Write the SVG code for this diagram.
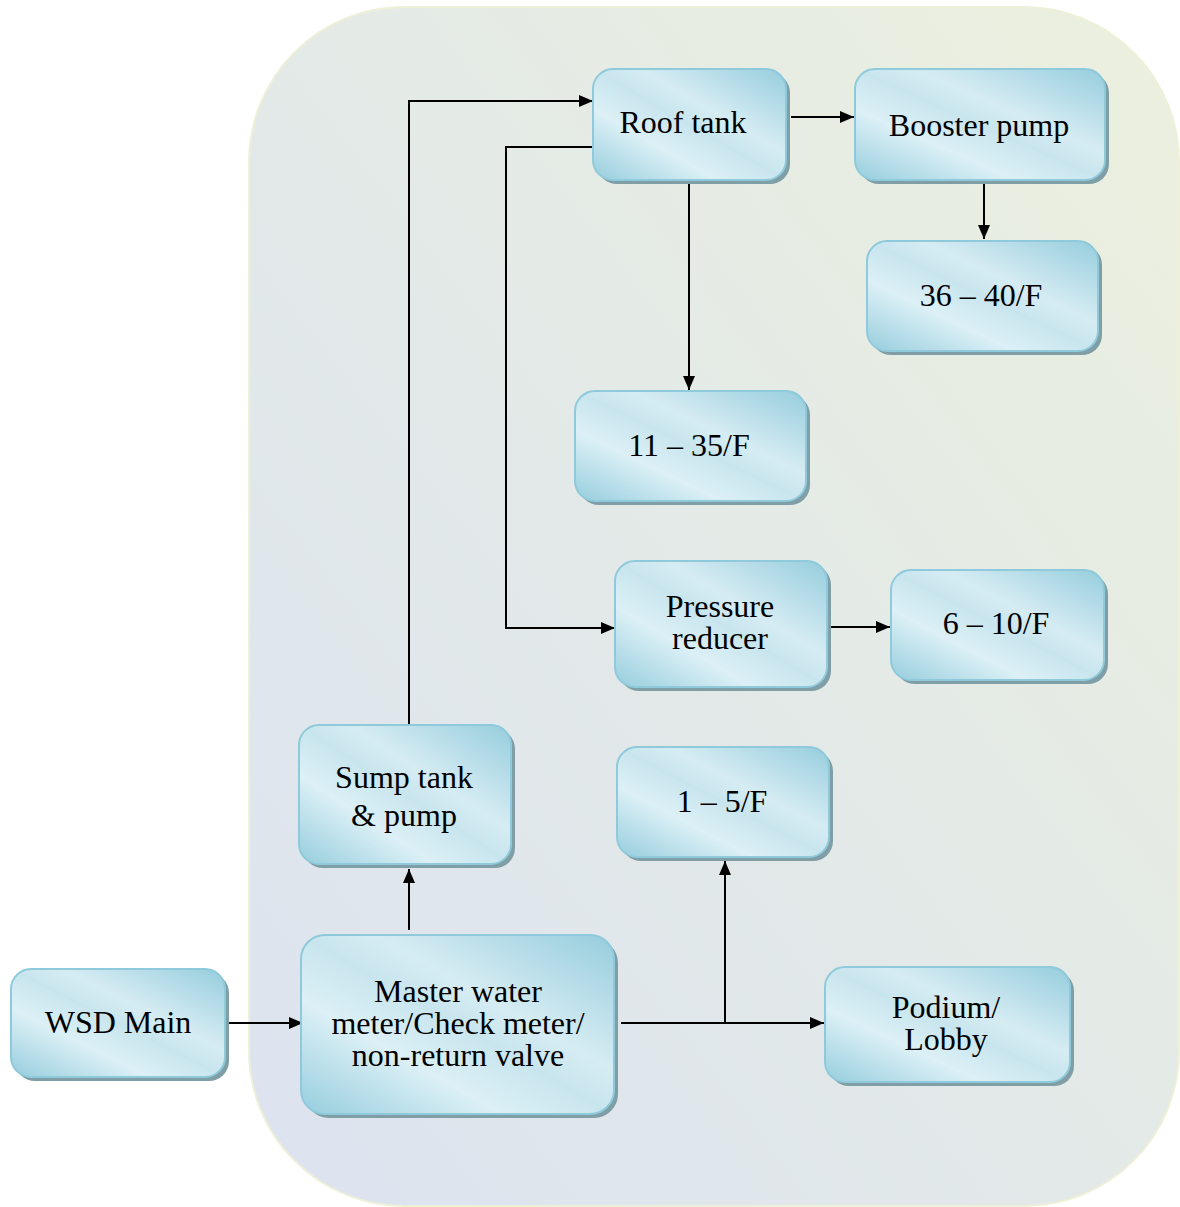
<svg xmlns="http://www.w3.org/2000/svg" width="1180" height="1207" viewBox="0 0 1180 1207">
<defs>
<linearGradient id="bg" x1="0" y1="1" x2="1" y2="0">
<stop offset="0" stop-color="#dce3f0"/>
<stop offset="1" stop-color="#ebf0de"/>
</linearGradient>
<linearGradient id="box" x1="1" y1="0" x2="0" y2="1">
<stop offset="0" stop-color="#96cddd"/>
<stop offset="0.38" stop-color="#d6ecf3"/>
<stop offset="0.5" stop-color="#c8e5ee"/>
<stop offset="0.68" stop-color="#dcf0f6"/>
<stop offset="1" stop-color="#96cddd"/>
</linearGradient>
<marker id="ah" viewBox="0 0 14 12" refX="14" refY="6" markerWidth="14" markerHeight="12" markerUnits="userSpaceOnUse" orient="auto">
<path d="M0,0 L14,6 L0,12 z" fill="#000"/>
</marker>
<style>
.sh{fill:#7f9ea6}
.bx{fill:url(#box);stroke:#8ecadb;stroke-width:2}
.t{font-family:"Liberation Serif","Times New Roman",serif;font-size:32px;fill:#000;text-anchor:middle}
.c{fill:none;stroke:#000;stroke-width:2}
</style>
</defs>
<rect x="249" y="7" width="930" height="1199" rx="155" ry="155" fill="url(#bg)" stroke="#eef0d8" stroke-width="2"/>
<g id="connectors">
<path class="c" d="M228,1023 H303" marker-end="url(#ah)"/>
<path class="c" d="M409,930 V869" marker-end="url(#ah)"/>
<path class="c" d="M409,725 V101 H593" marker-end="url(#ah)"/>
<path class="c" d="M593,147 H506 V628 H615" marker-end="url(#ah)"/>
<path class="c" d="M689,183 V390" marker-end="url(#ah)"/>
<path class="c" d="M791,117 H854" marker-end="url(#ah)"/>
<path class="c" d="M984,184 V239" marker-end="url(#ah)"/>
<path class="c" d="M830,627 H890" marker-end="url(#ah)"/>
<path class="c" d="M621,1023 H824" marker-end="url(#ah)"/>
<path class="c" d="M725,1023 V861" marker-end="url(#ah)"/>
</g>
<g id="roof-tank">
<rect class="sh" x="597" y="73" width="193" height="111" rx="20"/>
<rect class="bx" x="593" y="69" width="193" height="111" rx="20"/>
<text class="t" x="683" y="133">Roof tank</text>
</g>
<g id="booster-pump">
<rect class="sh" x="859" y="73" width="250" height="111" rx="20"/>
<rect class="bx" x="855" y="69" width="250" height="111" rx="20"/>
<text class="t" x="979" y="136">Booster pump</text>
</g>
<g id="f36-40">
<rect class="sh" x="871" y="245" width="231" height="110" rx="20"/>
<rect class="bx" x="867" y="241" width="231" height="110" rx="20"/>
<text class="t" x="981" y="306">36 – 40/F</text>
</g>
<g id="f11-35">
<rect class="sh" x="579" y="395" width="231" height="110" rx="20"/>
<rect class="bx" x="575" y="391" width="231" height="110" rx="20"/>
<text class="t" x="689" y="456">11 – 35/F</text>
</g>
<g id="pressure-reducer">
<rect class="sh" x="619" y="565" width="212" height="126" rx="20"/>
<rect class="bx" x="615" y="561" width="212" height="126" rx="20"/>
<text class="t" x="720" y="617">Pressure</text>
<text class="t" x="720" y="649">reducer</text>
</g>
<g id="f6-10">
<rect class="sh" x="895" y="574" width="213" height="110" rx="20"/>
<rect class="bx" x="891" y="570" width="213" height="110" rx="20"/>
<text class="t" x="996" y="634">6 – 10/F</text>
</g>
<g id="sump-tank">
<rect class="sh" x="303" y="729" width="212" height="139" rx="20"/>
<rect class="bx" x="299" y="725" width="212" height="139" rx="20"/>
<text class="t" x="404" y="788">Sump tank</text>
<text class="t" x="404" y="826">&amp; pump</text>
</g>
<g id="f1-5">
<rect class="sh" x="621" y="751" width="212" height="110" rx="20"/>
<rect class="bx" x="617" y="747" width="212" height="110" rx="20"/>
<text class="t" x="722" y="812">1 – 5/F</text>
</g>
<g id="master-meter">
<rect class="sh" x="305" y="939" width="313" height="179" rx="24"/>
<rect class="bx" x="301" y="935" width="313" height="179" rx="24"/>
<text class="t" x="458" y="1002">Master water</text>
<text class="t" x="458" y="1034">meter/Check meter/</text>
<text class="t" x="458" y="1066">non-return valve</text>
</g>
<g id="podium-lobby">
<rect class="sh" x="829" y="971" width="245" height="115" rx="20"/>
<rect class="bx" x="825" y="967" width="245" height="115" rx="20"/>
<text class="t" x="946" y="1018">Podium/</text>
<text class="t" x="946" y="1050">Lobby</text>
</g>
<g id="wsd-main">
<rect class="sh" x="15" y="973" width="214" height="108" rx="20"/>
<rect class="bx" x="11" y="969" width="214" height="108" rx="20"/>
<text class="t" x="118" y="1033">WSD Main</text>
</g>
</svg>
